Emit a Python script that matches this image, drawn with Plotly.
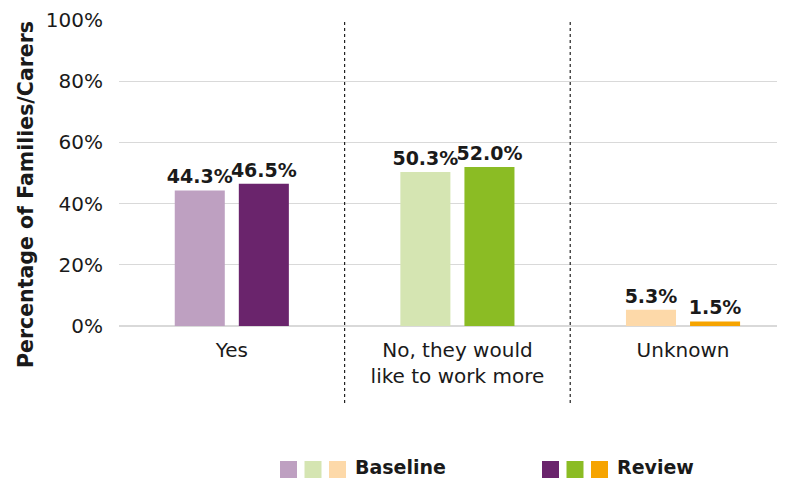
import plotly.graph_objects as go

categories = ["Yes", "No, they would<br>like to work more", "Unknown"]
baseline = [0.443, 0.503, 0.053]
review = [0.465, 0.520, 0.015]
baseline_colors = ["#BEA0C1", "#D5E5B2", "#FDD9A9"]
review_colors = ["#6A246C", "#8BBC24", "#F6A400"]
series_names = ["Baseline", "Review"]
y_ticks = [0, 0.2, 0.4, 0.6, 0.8, 1.0]
y_title = "Percentage of Families/Carers"

FONT = "DejaVu Sans"
OFF = 8  # page body margin
W, H = 785 - OFF, 479 - OFF
L, T = 119 - OFF, 20 - OFF
R = 0
B = H - T - 306
pw, ph = W - L - R, H - T - B

def px(x):
    return (x - OFF - L) / pw

def py(y):
    return (OFF + T + ph - y) / ph

fig = go.Figure()
for vals, cols, name in [(baseline, baseline_colors, series_names[0]),
                         (review, review_colors, series_names[1])]:
    fig.add_trace(go.Bar(
        x=categories, y=vals, name=name, marker_color=cols,
        marker_line_width=0,
        text=[f"{v*100:.1f}%" for v in vals], textposition="outside",
        constraintext="none",
        textfont=dict(family=FONT, size=19, color="#1a1a1a", weight="bold"),
        cliponaxis=False, showlegend=False,
    ))

shapes = []
for xv in [0.5, 1.5]:
    shapes.append(dict(type="line", xref="x", yref="paper", x0=xv, x1=xv,
                       y0=py(403), y1=1.0,
                       line=dict(color="#222", width=1.2, dash="dot")))

annotations = [dict(xref="paper", yref="paper", x=px(26), y=py(195),
                    text=f"<b>{y_title}</b>", textangle=-90, showarrow=False,
                    xanchor="center", yanchor="middle",
                    font=dict(family=FONT, size=20.5, color="#1a1a1a"))]
legend_specs = [(baseline_colors, 280, series_names[0]), (review_colors, 542, series_names[1])]
for cols, x0, name in legend_specs:
    for i, c in enumerate(cols):
        xs = x0 + i * 24.5
        shapes.append(dict(type="rect", xref="paper", yref="paper",
                           x0=px(xs), x1=px(xs + 17), y0=py(478), y1=py(461),
                           fillcolor=c, line_width=0))
    annotations.append(dict(xref="paper", yref="paper", x=px(x0 + 3 * 24.5 + 0.5),
                            y=py(467), text=f"<b>{name}</b>", showarrow=False,
                            xanchor="left", yanchor="middle", borderpad=0,
                            font=dict(family=FONT, size=19, color="#1a1a1a")))

fig.update_layout(
    width=W, height=H,
    margin=dict(l=L, r=R, t=T, b=B, autoexpand=False),
    paper_bgcolor="white", plot_bgcolor="white",
    barmode="group", bargap=0.432, bargroupgap=0.219,
    font=dict(family=FONT, size=20, color="#1a1a1a"),
    shapes=shapes, annotations=annotations,
    xaxis=dict(range=[-0.5, 2.452], showgrid=False, showline=False, ticks="",
               ticklabelstandoff=10,
               tickfont=dict(family=FONT, size=20, color="#1a1a1a")),
    yaxis=dict(range=[0, 1.0], tickvals=y_ticks, tickformat=".0%",
               showgrid=True, gridcolor="#d9d9d9", gridwidth=1,
               zeroline=True, zerolinecolor="#d9d9d9", zerolinewidth=1.5,
               showline=False, ticks="", ticklabelstandoff=15,
               tickfont=dict(family=FONT, size=20, color="#1a1a1a")),
)

fig.write_html("out.html")
